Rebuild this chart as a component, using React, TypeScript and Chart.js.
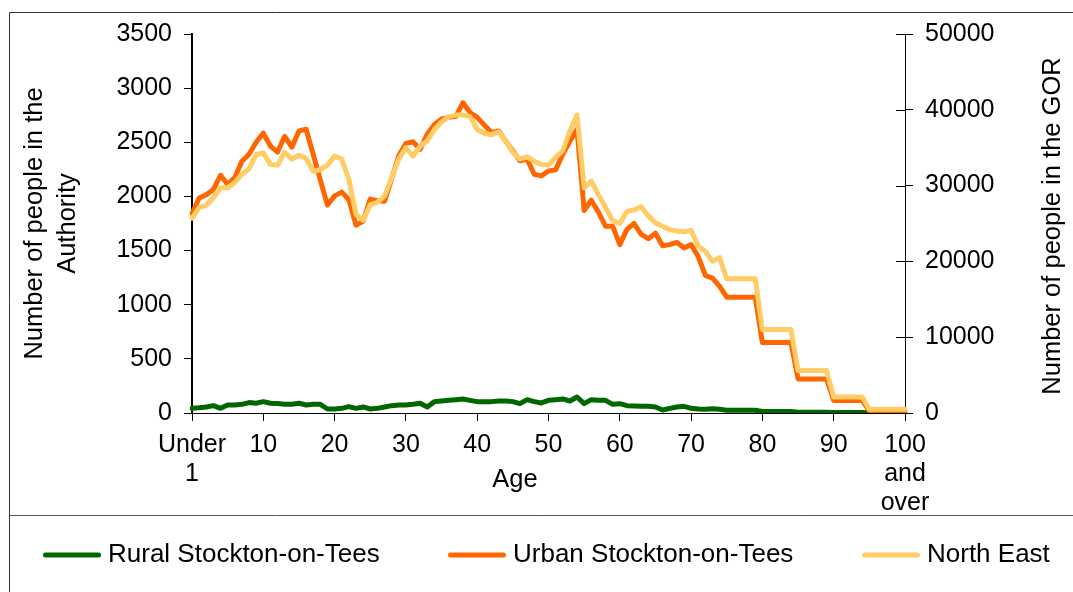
import { useEffect, useRef } from "react";
import { Chart, registerables } from "chart.js";

Chart.register(...registerables);

const FONT = "'Liberation Sans', Arial, Helvetica, sans-serif";

// Categories (single years of age)
const ageCategories = [
  "Under 1", "1", "2", "3", "4", "5", "6", "7", "8", "9",
  "10", "11", "12", "13", "14", "15", "16", "17", "18", "19",
  "20", "21", "22", "23", "24", "25", "26", "27", "28", "29",
  "30", "31", "32", "33", "34", "35", "36", "37", "38", "39",
  "40", "41", "42", "43", "44", "45", "46", "47", "48", "49",
  "50", "51", "52", "53", "54", "55", "56", "57", "58", "59",
  "60", "61", "62", "63", "64", "65", "66", "67", "68", "69",
  "70", "71", "72", "73", "74", "75", "76", "77", "78", "79",
  "80", "81", "82", "83", "84", "85", "86", "87", "88", "89",
  "90", "91", "92", "93", "94", "95", "96", "97", "98", "99",
  "100 and over",
];

// Shown tick labels (by category index)
const xTickLabels: Record<number, string[]> = {
  0: ["Under", "1"],
  10: ["10"],
  20: ["20"],
  30: ["30"],
  40: ["40"],
  50: ["50"],
  60: ["60"],
  70: ["70"],
  80: ["80"],
  90: ["90"],
  100: ["100", "and", "over"],
};

const seriesNames = ["Rural Stockton-on-Tees", "Urban Stockton-on-Tees", "North East"];
const seriesColors = ["#006600", "#FF6600", "#FFCC66"];

// Left axis (Authority)
const ruralStockton = [
  43, 48, 56, 68, 43, 74, 74, 80, 96, 90,
  105, 90, 87, 80, 80, 90, 74, 80, 80, 37,
  37, 43, 59, 43, 56, 37, 43, 56, 68, 74,
  74, 80, 90, 56, 105, 111, 117, 123, 130, 117,
  105, 105, 105, 111, 111, 105, 86, 123, 105, 93,
  117, 123, 130, 111, 148, 86, 123, 117, 117, 80,
  86, 68, 65, 62, 62, 56, 28, 43, 56, 62,
  43, 37, 34, 40, 34, 26, 26, 26, 26, 26,
  14, 14, 14, 14, 14, 8, 8, 8, 8, 8,
  4, 4, 4, 4, 4, 2, 2, 2, 2, 2,
  2,
];

const urbanStockton = [
  1840, 1985, 2015, 2065, 2195, 2110, 2175, 2325, 2390, 2500,
  2585, 2465, 2410, 2555, 2455, 2605, 2620, 2390, 2150, 1920,
  2005, 2040, 1970, 1735, 1770, 1975, 1960, 1955, 2160, 2375,
  2490, 2505, 2435, 2575, 2665, 2715, 2730, 2740, 2865, 2775,
  2730, 2660, 2590, 2605, 2510, 2420, 2330, 2345, 2205, 2190,
  2235, 2245, 2390, 2510, 2620, 1870, 1965, 1855, 1725, 1725,
  1555, 1695, 1750, 1650, 1610, 1660, 1545, 1555, 1575, 1525,
  1555, 1445, 1270, 1245, 1170, 1070, 1070, 1070, 1070, 1070,
  650, 650, 650, 650, 650, 315, 315, 315, 315, 315,
  115, 115, 115, 115, 115, 20, 20, 20, 20, 20,
  20,
];

// Right axis (GOR)
const northEast = [
  25700, 27100, 27400, 28400, 29700, 29700, 30400, 31500, 32200, 34100,
  34300, 32800, 32700, 34400, 33500, 34000, 33600, 31900, 32100, 32700,
  33900, 33500, 30800, 26200, 25400, 27500, 27800, 28600, 31000, 33500,
  35000, 33900, 35200, 35900, 37400, 38400, 39100, 39300, 39300, 39100,
  37400, 36900, 36700, 37100, 35900, 34400, 33500, 33800, 33200, 32800,
  32700, 33700, 34600, 37200, 39300, 29700, 30600, 28800, 27100, 25400,
  25000, 26600, 26800, 27200, 26000, 25100, 24600, 24200, 24000, 23900,
  24100, 22000, 21300, 20000, 20500, 17700, 17700, 17700, 17700, 17700,
  11000, 11000, 11000, 11000, 11000, 5600, 5600, 5600, 5600, 5600,
  2100, 2100, 2100, 2100, 2100, 500, 500, 500, 500, 500,
  500,
];

const leftAxisTitle = ["Number of people in the", "Authority"];
const rightAxisTitle = "Number of people in the GOR";
const xAxisTitle = "Age";

const extrasPlugin = {
  id: "extras",
  afterDraw(chart: any) {
    const ctx = chart.ctx as CanvasRenderingContext2D;
    const W = chart.width;
    const H = chart.height;
    ctx.save();
    // outer frame and legend separator
    ctx.lineWidth = 1;
    ctx.strokeStyle = "#333";
    ctx.beginPath();
    ctx.moveTo(9.5, H);
    ctx.lineTo(9.5, 12.5);
    ctx.lineTo(W, 12.5);
    ctx.stroke();
    ctx.strokeStyle = "#555";
    ctx.beginPath();
    ctx.moveTo(9.5, 515.5);
    ctx.lineTo(W, 515.5);
    ctx.stroke();

    // inner half of right-axis tick marks (cross ticks)
    const y1 = chart.scales.y1;
    ctx.strokeStyle = "#000";
    y1.ticks.forEach((_t: any, i: number) => {
      const py = Math.round(y1.getPixelForTick(i)) + 0.5;
      ctx.beginPath();
      ctx.moveTo(y1.left - 9, py);
      ctx.lineTo(y1.left, py);
      ctx.stroke();
    });

    ctx.fillStyle = "#000";
    ctx.textBaseline = "middle";

    // x axis title
    ctx.font = `25.5px ${FONT}`;
    ctx.textAlign = "center";
    ctx.fillText(xAxisTitle, 515, 480);

    // right axis title (reads bottom to top)
    ctx.save();
    ctx.translate(1053, 226);
    ctx.rotate(-Math.PI / 2);
    ctx.fillText(rightAxisTitle, 0, 0);
    ctx.restore();

    // legend
    const starts = [43, 448, 862];
    const ly = 555;
    ctx.font = `26px ${FONT}`;
    ctx.textAlign = "left";
    chart.data.datasets.forEach((ds: any, i: number) => {
      const x = starts[i];
      ctx.strokeStyle = ds.borderColor;
      ctx.lineWidth = 5;
      ctx.lineCap = "round";
      ctx.beginPath();
      ctx.moveTo(x + 2.5, ly);
      ctx.lineTo(x + 55.5, ly);
      ctx.stroke();
      ctx.fillStyle = "#000";
      ctx.fillText(ds.label, x + 65, ly);
    });
    ctx.restore();
  },
};

export default function App() {
  const canvasRef = useRef<HTMLCanvasElement | null>(null);

  useEffect(() => {
    if (!canvasRef.current) return;
    Chart.defaults.font.family = FONT;
    Chart.defaults.font.size = 25;
    Chart.defaults.color = "#000";

    const seriesData = [ruralStockton, urbanStockton, northEast];
    const axes = ["y", "y", "y1"];
    const orders = [2, 1, 0];
    const plain = (v: any) => String(v);

    const chart = new Chart(canvasRef.current, {
      type: "line",
      data: {
        labels: ageCategories,
        datasets: seriesNames.map((name, i) => ({
          label: name,
          data: seriesData[i],
          borderColor: seriesColors[i],
          backgroundColor: seriesColors[i],
          yAxisID: axes[i],
          order: orders[i],
          borderWidth: 5,
          pointRadius: 0,
          tension: 0,
          borderJoinStyle: "round" as const,
          borderCapStyle: "round" as const,
          fill: false,
        })),
      },
      options: {
        animation: false,
        responsive: false,
        events: [],
        layout: { padding: { left: 0, right: 0, top: 34, bottom: 80 } },
        plugins: {
          legend: { display: false },
          tooltip: { enabled: false },
          title: { display: false },
        },
        scales: {
          x: {
            type: "category",
            offset: false,
            grid: {
              drawOnChartArea: false,
              drawTicks: true,
              tickLength: 8,
              color: "#000",
              tickColor: (c: any) => (c.index % 10 === 0 ? "#000" : "rgba(0,0,0,0)"),
            },
            border: { display: true, color: "#000", width: 1 },
            ticks: {
              autoSkip: false,
              maxRotation: 0,
              minRotation: 0,
              padding: 10,
              color: "#000",
              font: { size: 25, lineHeight: 1.16 },
              callback: (_v: any, i: number) => (xTickLabels[i] ? xTickLabels[i] : ""),
            },
            title: { display: false },
            afterFit: (s: any) => {
              s.height = 99;
            },
          },
          y: {
            type: "linear",
            position: "left",
            min: 0,
            max: 3500,
            ticks: { stepSize: 500, padding: 12, color: "#000", font: { size: 25 }, callback: plain },
            grid: { drawOnChartArea: false, tickLength: 8, color: "#000" },
            border: { display: true, color: "#000", width: 2 },
            title: {
              display: true,
              text: leftAxisTitle,
              color: "#000",
              font: { size: 25.5, lineHeight: 1.31 },
              padding: { top: 18, bottom: 0 },
            },
            afterFit: (s: any) => {
              s.width = 192;
            },
          },
          y1: {
            type: "linear",
            position: "right",
            min: 0,
            max: 50000,
            ticks: { stepSize: 10000, padding: 12, color: "#000", font: { size: 25 }, callback: plain },
            grid: { drawOnChartArea: false, tickLength: 8, color: "#000" },
            border: { display: true, color: "#000", width: 1 },
            title: { display: false },
            afterFit: (s: any) => {
              s.width = 168;
            },
          },
        },
      },
      plugins: [extrasPlugin],
    });
    return () => chart.destroy();
  }, []);

  return (
    <div style={{ position: "fixed", left: 0, top: 0, width: 1073, height: 592, background: "#fff" }}>
      <canvas ref={canvasRef} width={1073} height={592} style={{ display: "block", width: 1073, height: 592 }} />
    </div>
  );
}
